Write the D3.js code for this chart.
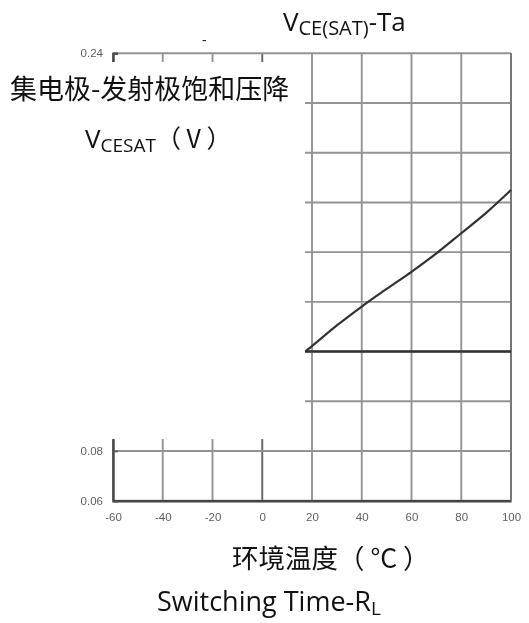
<!DOCTYPE html>
<html>
<head>
<meta charset="utf-8">
<script src="https://cdn.jsdelivr.net/npm/d3@7"></script>
<style>
  html, body { margin: 0; padding: 0; background: #fff; }
  svg { display: block; }
  .lat { font-family: "Open Sans", "Noto Sans", sans-serif; fill: #111; }
  .cjk { font-family: "Noto Sans CJK SC", "Open Sans", sans-serif; fill: #111; }
  .tick { font-family: "Liberation Sans Narrow", "Liberation Sans", sans-serif; fill: #5f5f5f; font-size: 11.5px; }
</style>
</head>
<body>
<script>
// ---- data ----
const xTicks = [-60, -40, -20, 0, 20, 40, 60, 80, 100];
const xTickLabels = ["-60", "-40", "-20", "0", "20", "40", "60", "80", "100"];
const yTicks = [0.06, 0.08, 0.10, 0.12, 0.14, 0.16, 0.18, 0.20, 0.22, 0.24];
const yTickLabels = ["0.06", "0.08", "0.10", "0.12", "0.14", "0.16", "0.18", "0.20", "0.22", "0.24"];
const curveTemp = [17.2, 20, 30, 40, 50, 60, 70, 80, 90, 100];
const curveVce  = [0.120, 0.1222, 0.1305, 0.1381, 0.1452, 0.1521, 0.1595, 0.1676, 0.1758, 0.1850];
const flatTemp = [17.2, 100];
const flatVce  = [0.120, 0.120];
// region of the scan hidden behind the overlay labels (data coords)
const hiddenX = [-80, 17.2];
const hiddenY = [0.0848, 0.2365];

const W = 529, H = 623;
const x = d3.scaleLinear().domain([-60, 100]).range([113, 511]);
const y = d3.scaleLinear().domain([0.06, 0.24]).range([500.7, 53.3]);

const svg = d3.select("body").append("svg").attr("width", W).attr("height", H);
svg.append("rect").attr("width", W).attr("height", H).attr("fill", "#fff");

const defs = svg.append("defs");
defs.append("filter").attr("id", "scan").attr("x", "-5%").attr("y", "-5%").attr("width", "110%").attr("height", "110%")
  .append("feGaussianBlur").attr("stdDeviation", 0.55);

const plot = svg.append("g").attr("filter", "url(#scan)");

// grid
plot.append("g").selectAll("line").data(xTicks).join("line")
  .attr("x1", d => x(d)).attr("x2", d => x(d))
  .attr("y1", y(0.24)).attr("y2", y(0.06))
  .attr("stroke", d => d === 0 ? "#666" : "#939393").attr("stroke-width", 1.9);
plot.append("g").selectAll("line").data(yTicks).join("line")
  .attr("x1", x(-60)).attr("x2", x(100))
  .attr("y1", d => y(d)).attr("y2", d => y(d))
  .attr("stroke", "#939393").attr("stroke-width", 1.9);

// axes (left + bottom) with d3 axes
const xAxis = d3.axisBottom(x).tickValues(xTicks).tickSize(0).tickPadding(12)
  .tickFormat((d, i) => xTickLabels[i]);
const gx = plot.append("g").attr("transform", `translate(0,${y(0.06)})`).call(xAxis);
gx.select(".domain").attr("stroke", "#444").attr("stroke-width", 2.4);
gx.selectAll("text").attr("class", "tick").attr("font-size", null).attr("font-family", null).attr("fill", null);

const yAxis = d3.axisLeft(y).tickValues(yTicks).tickSize(-5).tickPadding(10)
  .tickFormat((d, i) => yTickLabels[i]);
const gy = plot.append("g").attr("transform", `translate(${x(-60)},0)`).call(yAxis);
gy.select(".domain").attr("stroke", "#444").attr("stroke-width", 2.4);
gy.selectAll(".tick line").attr("stroke", "#555").attr("stroke-width", 1.5);
gy.selectAll("text").attr("class", "tick").attr("font-size", null).attr("font-family", null).attr("fill", null);

// right border
plot.append("line").attr("x1", x(100)).attr("x2", x(100)).attr("y1", y(0.24)).attr("y2", y(0.06))
  .attr("stroke", "#777").attr("stroke-width", 2);

// series
const line = d3.line().x(d => x(d[0])).y(d => y(d[1])).curve(d3.curveCatmullRom);
plot.append("path").datum(curveTemp.map((t, i) => [t, curveVce[i]]))
  .attr("d", line).attr("fill", "none").attr("stroke", "#333").attr("stroke-width", 2.2);
plot.append("path").datum(flatTemp.map((t, i) => [t, flatVce[i]]))
  .attr("d", line).attr("fill", "none").attr("stroke", "#333").attr("stroke-width", 2.6);

// white area covering the scan where labels were pasted
svg.append("rect")
  .attr("x", 0).attr("y", y(hiddenY[1]))
  .attr("width", x(hiddenX[1]))
  .attr("height", y(hiddenY[0]) - y(hiddenY[1]))
  .attr("fill", "#fff");

// texts placed piece by piece (main + subscript)
function pieces(x0, base, parts) {
  let cx = x0;
  parts.forEach(p => {
    const t = svg.append("text").attr("class", p.c || "lat")
      .attr("x", cx).attr("y", base + (p.dy || 0))
      .attr("font-size", p.s).text(p.t);
    cx += t.node().getComputedTextLength() + (p.gap || 0);
  });
}

pieces(283, 31, [
  {t: "V", s: 26},
  {t: "CE(SAT)", s: 20, dy: 4},
  {t: "-Ta", s: 26}
]);

svg.append("text").attr("class", "lat").attr("x", 202).attr("y", 45).attr("font-size", 14).text("-");

svg.append("text").attr("class", "cjk").attr("x", 10).attr("y", 99).attr("font-size", 27)
  .text("集电极-发射极饱和压降");

pieces(85, 148, [
  {t: "V", s: 26},
  {t: "CESAT", s: 19, dy: 4},
  {t: "（ V ）", s: 25, c: "cjk"}
]);

svg.append("text").attr("class", "cjk").attr("x", 232).attr("y", 568).attr("font-size", 26.5)
  .text("环境温度（ °C ）");

pieces(157, 611, [
  {t: "Switching Time-R", s: 27},
  {t: "L", s: 19, dy: 4}
]);
</script>
</body>
</html>
